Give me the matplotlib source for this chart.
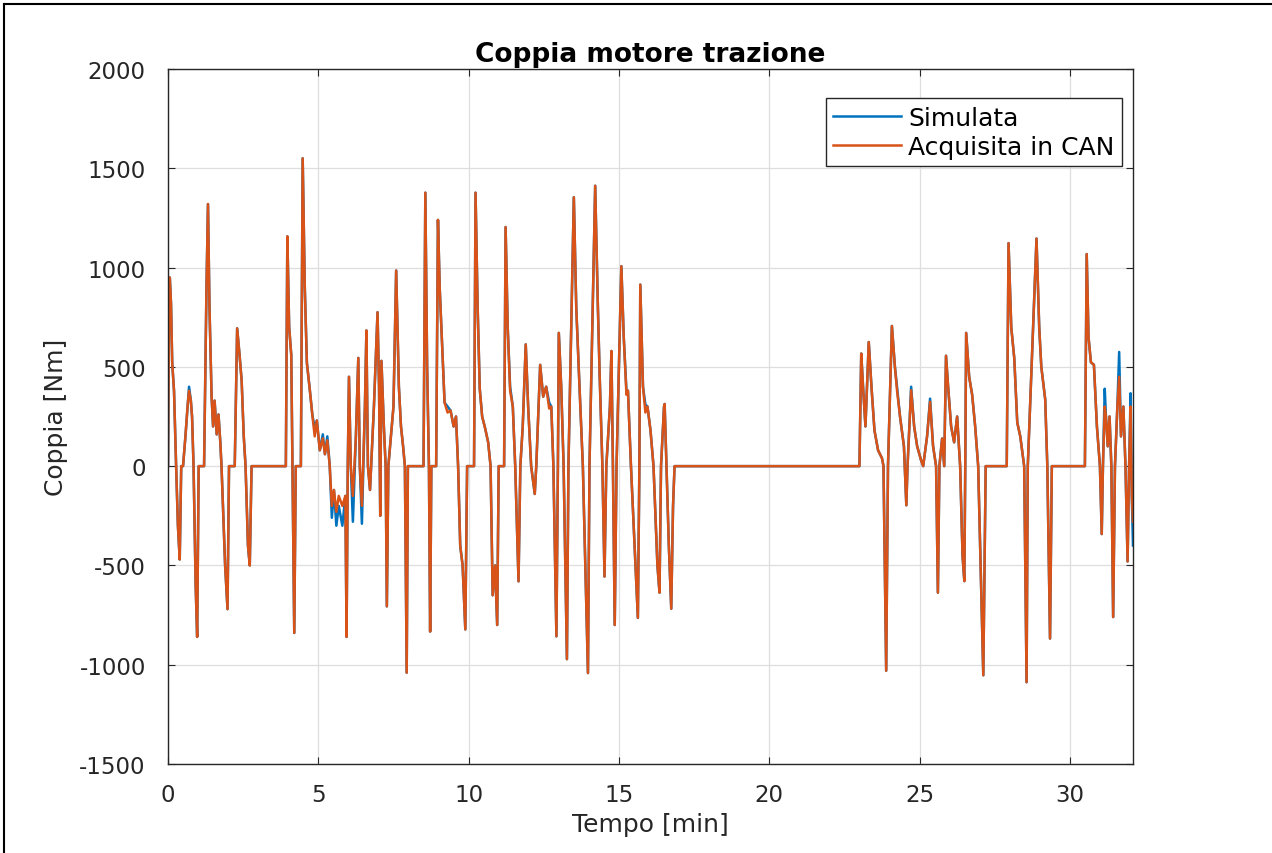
import matplotlib.pyplot as plt
from matplotlib.lines import Line2D

plt.rcParams['axes.unicode_minus'] = False

# coppia acquisita in CAN: (tempo [min], coppia [Nm])
acquisita = [
    (0.00, 0), (0.03, 700), (0.06, 950), (0.10, 820), (0.14, 520), (0.20, 380), (0.27, 0),
    (0.33, -300), (0.39, -470), (0.44, 0), (0.50, 0), (0.58, 150), (0.65, 300), (0.70, 380),
    (0.76, 330), (0.80, 250), (0.85, 0), (0.92, -600), (0.97, -860), (1.02, 0), (1.20, 0),
    (1.28, 900), (1.33, 1320), (1.38, 800), (1.45, 350), (1.50, 200), (1.55, 330), (1.62, 160),
    (1.68, 260), (1.74, 120), (1.78, 0), (1.90, -500), (1.98, -720), (2.03, 0), (2.22, 0),
    (2.30, 694), (2.38, 560), (2.45, 430), (2.52, 150), (2.58, 0), (2.66, -400), (2.72, -500),
    (2.78, 0), (3.92, 0), (3.97, 1157), (4.03, 700), (4.10, 560), (4.14, 0), (4.20, -840),
    (4.25, 0), (4.42, 0), (4.48, 1550), (4.55, 900), (4.62, 520), (4.72, 380), (4.80, 260),
    (4.88, 150), (4.95, 230), (5.05, 80), (5.15, 140), (5.22, 60), (5.30, 130), (5.38, 0),
    (5.45, -200), (5.52, -120), (5.60, -230), (5.68, -150), (5.80, -200), (5.90, -150),
    (5.94, -860), (5.98, 0), (6.02, 450), (6.08, 0), (6.15, -150), (6.25, 150), (6.33, 545),
    (6.38, 0), (6.45, -200), (6.55, 300), (6.60, 683), (6.65, 0), (6.72, -120), (6.85, 300),
    (6.97, 775), (7.02, 400), (7.06, -250), (7.10, 530), (7.18, 200), (7.24, 0), (7.28, -706),
    (7.33, 0), (7.50, 300), (7.59, 985), (7.68, 400), (7.75, 200), (7.82, 100), (7.88, 0),
    (7.94, -1040), (7.98, 0), (8.50, 0), (8.56, 1377), (8.62, 500), (8.68, 0), (8.72, -833),
    (8.76, 0), (8.92, 0), (8.98, 1240), (9.04, 890), (9.12, 600), (9.20, 320), (9.30, 270),
    (9.40, 280), (9.50, 200), (9.58, 250), (9.65, 0), (9.72, -400), (9.80, -500), (9.89, -822),
    (9.95, 0), (10.18, 0), (10.23, 1377), (10.30, 800), (10.37, 390), (10.45, 250),
    (10.55, 190), (10.65, 120), (10.73, 0), (10.80, -650), (10.88, -500), (10.95, -800),
    (11.00, 0), (11.18, 0), (11.23, 1204), (11.30, 700), (11.38, 380), (11.47, 300),
    (11.55, 0), (11.66, -580), (11.72, 0), (11.80, 200), (11.90, 613), (11.98, 300),
    (12.08, 0), (12.20, -140), (12.25, 0), (12.38, 510), (12.48, 350), (12.58, 400),
    (12.68, 290), (12.75, 300), (12.82, 0), (12.92, -857), (12.97, 0), (13.00, 671),
    (13.08, 400), (13.16, 0), (13.27, -972), (13.32, 0), (13.50, 1354), (13.58, 800),
    (13.68, 430), (13.80, 0), (13.97, -1042), (14.02, 0), (14.21, 1412), (14.30, 800),
    (14.36, 451), (14.45, 0), (14.52, -556), (14.58, 0), (14.70, 300), (14.75, 580),
    (14.80, 0), (14.86, -800), (14.92, 0), (15.08, 1007), (15.16, 650), (15.25, 360),
    (15.30, 380), (15.40, 0), (15.55, -500), (15.63, -764), (15.68, 0), (15.71, 914),
    (15.80, 400), (15.88, 270), (15.95, 300), (16.05, 180), (16.15, 0), (16.28, -500),
    (16.35, -637), (16.40, 0), (16.50, 300), (16.52, 313), (16.58, 0), (16.66, -400),
    (16.74, -718), (16.80, -200), (16.85, 0),
    (23.00, 0), (23.06, 567), (23.12, 400), (23.20, 200), (23.31, 625), (23.40, 400),
    (23.50, 180), (23.62, 80), (23.75, 40), (23.80, 0), (23.89, -1030), (23.95, 0),
    (24.08, 706), (24.18, 500), (24.25, 382), (24.35, 250), (24.48, 100), (24.56, -197),
    (24.60, 0), (24.72, 382), (24.82, 200), (24.92, 100), (25.05, 30), (25.12, 0),
    (25.25, 150), (25.35, 324), (25.45, 100), (25.55, 0), (25.61, -637), (25.66, 0),
    (25.75, 139), (25.82, 0), (25.88, 556), (25.95, 400), (26.05, 200), (26.15, 120),
    (26.25, 250), (26.35, 0), (26.43, -451), (26.49, -579), (26.52, 0), (26.55, 671),
    (26.65, 450), (26.75, 359), (26.85, 200), (26.95, 0), (27.12, -1053), (27.20, 0),
    (27.90, 0), (27.96, 1123), (28.05, 700), (28.15, 544), (28.25, 220), (28.35, 150),
    (28.48, 0), (28.56, -1088), (28.60, 0), (28.89, 1146), (28.98, 700), (29.05, 500),
    (29.18, 336), (29.25, 0), (29.34, -868), (29.40, 0), (30.50, 0), (30.56, 1068),
    (30.62, 650), (30.70, 523), (30.80, 510), (30.90, 200), (31.00, 0), (31.06, -342),
    (31.10, 0), (31.16, 300), (31.20, 250), (31.26, 100), (31.32, 250), (31.38, 0),
    (31.44, -760), (31.50, 0), (31.58, 300), (31.64, 450), (31.70, 150), (31.78, 300),
    (31.85, 0), (31.92, -480), (31.97, 0), (32.02, 300), (32.06, -150), (32.10, -280),
]

# punti in cui la coppia simulata si discosta da quella acquisita
simulata_diff = {
    0.70: 400, 4.88: 190, 5.15: 160, 5.30: 150, 5.45: -260, 5.60: -300, 5.68: -200,
    5.80: -300, 6.15: -280, 6.45: -290, 9.30: 300, 11.38: 400, 12.68: 320, 15.25: 380,
    15.88: 310, 24.25: 400, 24.72: 400, 25.35: 340, 31.16: 390, 31.64: 575, 32.02: 367,
    32.10: -400,
}

tempo_can = [p[0] for p in acquisita]
coppia_can = [p[1] for p in acquisita]
coppia_sim = [simulata_diff.get(t, v) for t, v in acquisita]

blu = (0.0, 0.447, 0.741)
arancio = (0.85, 0.325, 0.098)

fig = plt.figure(figsize=(12.72, 8.54), dpi=100)
ax = fig.add_axes([168 / 1272, 1 - 765 / 854, 965 / 1272, 695 / 854])

ax.plot(tempo_can, coppia_sim, color=blu, lw=1.8, label='Simulata')
ax.plot(tempo_can, coppia_can, color=arancio, lw=1.8, label='Acquisita in CAN')

ax.set_xlim(0, 32.1)
ax.set_ylim(-1500, 2000)
ax.set_xticks(range(0, 31, 5))
ax.set_yticks(range(-1500, 2001, 500))
ax.grid(True, color='#dedede', lw=0.9)
ax.set_axisbelow(True)
ax.tick_params(direction='in', top=True, right=True, labelsize=16.5,
               colors='#262626', length=5)
ax.tick_params(axis='x', pad=14)
ax.tick_params(axis='y', pad=16)
for s in ax.spines.values():
    s.set_color('#262626')
    s.set_linewidth(1.0)

ax.set_title('Coppia motore trazione', fontsize=19, fontweight='bold', pad=6)
ax.set_xlabel('Tempo [min]', fontsize=18, color='#262626', labelpad=4)
ax.set_ylabel('Coppia [Nm]', fontsize=18, color='#262626', labelpad=8)

leg = ax.legend(loc='upper right', bbox_to_anchor=(0.9886, 0.958), borderaxespad=0,
                fontsize=18, fancybox=False, edgecolor='#262626', framealpha=1,
                handlelength=2.7, handletextpad=0.3, labelspacing=0.2, borderpad=0.3)
leg.get_frame().set_linewidth(1.0)

# cornice dello screenshot
fig.add_artist(Line2D([4 / 1272, 4 / 1272], [0, 1 - 5 / 854], color='black', lw=1.5))
fig.add_artist(Line2D([4 / 1272, 1], [1 - 5 / 854, 1 - 5 / 854], color='black', lw=1.5))

fig.savefig('out.png', dpi=100, facecolor='white')
